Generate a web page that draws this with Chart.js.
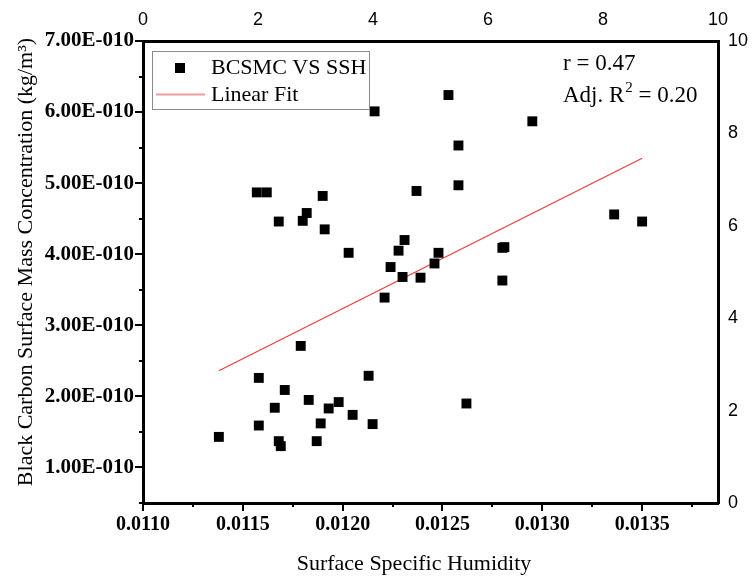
<!DOCTYPE html>
<html>
<head>
<meta charset="utf-8">
<script src="https://cdn.jsdelivr.net/npm/chart.js@4.4.1/dist/chart.umd.min.js"></script>
<style>
  html, body { margin: 0; padding: 0; background: #fff; }
</style>
</head>
<body>
<canvas id="bcChart" width="754" height="577"></canvas>
<script>
// surface specific humidity vs black carbon surface mass concentration
var humidity = [0.01138, 0.01158, 0.01171, 0.01166, 0.01158, 0.01179, 0.01183, 0.01198, 0.01193, 0.01205,
                0.01189, 0.01168, 0.01169, 0.01187, 0.01213, 0.01215, 0.01221, 0.01157, 0.01162, 0.01190,
                0.01237, 0.01182, 0.01180, 0.01168, 0.01191, 0.01203, 0.01231, 0.01228, 0.01224, 0.01230,
                0.01239, 0.01248, 0.01246, 0.01280, 0.01281, 0.01280, 0.01262, 0.01336, 0.01350, 0.01216,
                0.01253, 0.01295, 0.01258, 0.01258];
var bcConc = [1.43e-10, 2.26e-10, 2.09e-10, 1.84e-10, 1.59e-10, 2.71e-10, 1.95e-10, 1.92e-10, 1.83e-10, 1.74e-10,
              1.62e-10, 1.37e-10, 1.30e-10, 1.37e-10, 2.29e-10, 1.61e-10, 3.39e-10, 4.87e-10, 4.87e-10, 4.82e-10,
              4.89e-10, 4.58e-10, 4.47e-10, 4.46e-10, 4.35e-10, 4.02e-10, 4.20e-10, 4.05e-10, 3.82e-10, 3.68e-10,
              3.67e-10, 4.02e-10, 3.87e-10, 4.09e-10, 4.10e-10, 3.63e-10, 1.90e-10, 4.56e-10, 4.46e-10, 6.01e-10,
              6.24e-10, 5.87e-10, 5.53e-10, 4.97e-10];

// linear fit end points
var fitX = [0.01138, 0.0135];
var fitY = [2.36e-10, 5.35e-10];

var xTicks = [0.011, 0.0115, 0.012, 0.0125, 0.013, 0.0135];
var xTickLabels = ['0.0110', '0.0115', '0.0120', '0.0125', '0.0130', '0.0135'];
var yTicks = [1e-10, 2e-10, 3e-10, 4e-10, 5e-10, 6e-10, 7e-10];
var yTickLabels = ['1.00E-010', '2.00E-010', '3.00E-010', '4.00E-010', '5.00E-010', '6.00E-010', '7.00E-010'];
var auxTicks = [0, 2, 4, 6, 8, 10];
var auxTickLabels = ['0', '2', '4', '6', '8', '10'];

var serif = '"Liberation Serif", "Times New Roman", serif';
var sans = '"Liberation Sans", Arial, sans-serif';

function fixedBox(size) {
    return function (scale) {
        if (scale.isHorizontal()) scale.height = size; else scale.width = size;
        scale.paddingLeft = scale.paddingRight = scale.paddingTop = scale.paddingBottom = 0;
    };
}

function setTicks(values) {
    return function (scale) {
        scale.ticks = values.map(function (v) { return { value: v }; });
    };
}

// ticks, legend, stats text and axis titles
var extras = {
    id: 'extras',
    afterDraw: function (chart) {
        var ctx = chart.ctx;
        var xs = chart.scales.x, ys = chart.scales.y;
        var area = chart.chartArea;
        var k, v, p, len;
        ctx.save();
        ctx.strokeStyle = '#000';
        ctx.lineWidth = 2;
        ctx.beginPath();
        for (k = 0; ; k++) {
            v = 0.011 + k * 0.00025;
            if (v > xs.max + 1e-9) break;
            p = Math.round(xs.getPixelForValue(v));
            len = k % 2 === 0 ? 8 : 4;
            ctx.moveTo(p, area.bottom);
            ctx.lineTo(p, area.bottom + len);
        }
        for (k = 1; ; k++) {
            v = k * 0.5e-10;
            if (v > ys.max * 1.0001) break;
            if (v < ys.min * 0.9999) continue;
            p = Math.round(ys.getPixelForValue(v));
            len = k % 2 === 0 ? 8 : 4;
            ctx.moveTo(area.left, p);
            ctx.lineTo(area.left - len, p);
        }
        ctx.stroke();

        // legend
        ctx.lineWidth = 1;
        ctx.strokeStyle = '#8a8a8a';
        ctx.strokeRect(152.5, 51.5, 217, 58);
        ctx.fillStyle = '#000';
        ctx.fillRect(175, 63, 10, 10);
        ctx.strokeStyle = '#f29a9a';
        ctx.lineWidth = 2;
        ctx.beginPath();
        ctx.moveTo(156, 94.5);
        ctx.lineTo(205, 94.5);
        ctx.stroke();
        ctx.font = '22px ' + serif;
        ctx.textBaseline = 'middle';
        ctx.textAlign = 'left';
        ctx.fillText('BCSMC VS SSH', 211, 68);
        ctx.fillText('Linear Fit', 211, 95);

        // correlation stats
        ctx.font = '23px ' + serif;
        ctx.fillText('r = 0.47', 563, 64);
        var x0 = 563, yb = 96;
        ctx.fillText('Adj. R', x0, yb);
        x0 += ctx.measureText('Adj. R').width;
        ctx.font = '15px ' + serif;
        ctx.fillText('2', x0 + 1, yb - 8);
        x0 += ctx.measureText('2').width + 1;
        ctx.font = '23px ' + serif;
        ctx.fillText(' = 0.20', x0, yb);

        // axis titles
        ctx.font = '22px ' + serif;
        ctx.textAlign = 'center';
        ctx.fillText('Surface Specific Humidity', 414, 564);
        ctx.translate(26, 262);
        ctx.rotate(-Math.PI / 2);
        ctx.fillText('Black Carbon Surface Mass Concentration (kg/m\u00B3)', 0, 0);
        ctx.restore();
    }
};

var points = humidity.map(function (h, i) { return { x: h, y: bcConc[i] }; });
var fitLine = fitX.map(function (h, i) { return { x: h, y: fitY[i] }; });

new Chart(document.getElementById('bcChart'), {
    type: 'scatter',
    data: {
        datasets: [{
            label: 'BCSMC VS SSH',
            data: points,
            pointStyle: 'rect',
            pointRadius: 7,
            backgroundColor: '#000',
            borderColor: '#000',
            borderWidth: 0
        }, {
            label: 'Linear Fit',
            data: fitLine,
            showLine: true,
            pointRadius: 0,
            borderColor: '#ee3b3b',
            borderWidth: 1.2
        }]
    },
    options: {
        responsive: false,
        animation: false,
        events: [],
        layout: { padding: 0 },
        plugins: { legend: { display: false }, tooltip: { enabled: false } },
        scales: {
            x: {
                type: 'linear', position: 'bottom', min: 0.011, max: 0.01388,
                afterBuildTicks: setTicks(xTicks),
                afterFit: fixedBox(74),
                grid: { drawOnChartArea: false, drawTicks: false },
                border: { display: true, color: '#000', width: 3 },
                ticks: {
                    padding: 10, color: '#000', maxRotation: 0, autoSkip: false,
                    font: { family: serif, size: 20, weight: 'bold' },
                    callback: function (v, i) { return xTickLabels[i]; }
                }
            },
            x2: {
                type: 'linear', position: 'top', min: 0, max: 10,
                afterBuildTicks: setTicks(auxTicks),
                afterFit: fixedBox(41),
                grid: { drawOnChartArea: false, drawTicks: false },
                border: { display: true, color: '#000', width: 3 },
                ticks: {
                    padding: 10, color: '#000', maxRotation: 0, autoSkip: false,
                    font: { family: sans, size: 18 },
                    callback: function (v, i) { return auxTickLabels[i]; }
                }
            },
            y: {
                type: 'linear', position: 'left', min: 0.5e-10, max: 7e-10,
                afterBuildTicks: setTicks(yTicks),
                afterFit: fixedBox(143),
                grid: { drawOnChartArea: false, drawTicks: false },
                border: { display: true, color: '#000', width: 3 },
                ticks: {
                    padding: 9, color: '#000', autoSkip: false,
                    font: { family: serif, size: 21, weight: 'bold' },
                    callback: function (v, i) { return yTickLabels[i]; }
                }
            },
            y2: {
                type: 'linear', position: 'right', min: 0, max: 10,
                afterBuildTicks: setTicks(auxTicks),
                afterFit: fixedBox(36),
                grid: { drawOnChartArea: false, drawTicks: false },
                border: { display: true, color: '#000', width: 3 },
                ticks: {
                    padding: 10, color: '#000', autoSkip: false,
                    font: { family: sans, size: 18 },
                    callback: function (v, i) { return auxTickLabels[i]; }
                }
            }
        }
    },
    plugins: [extras]
});
</script>
</body>
</html>
